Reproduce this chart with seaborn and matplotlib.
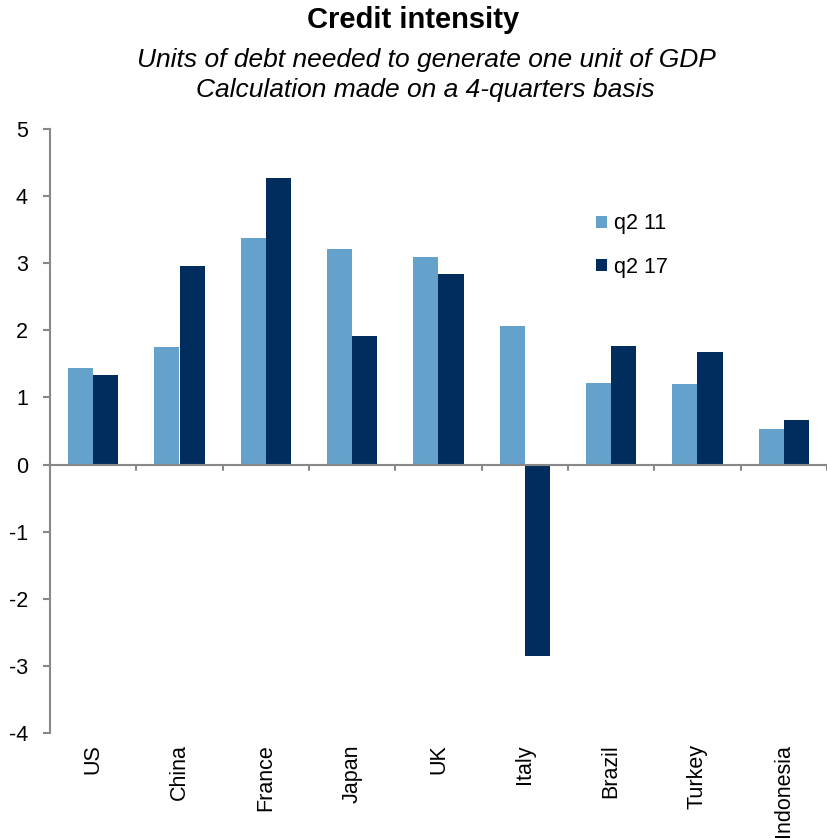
import matplotlib
matplotlib.use("Agg")
import matplotlib.pyplot as plt
import seaborn as sns
import pandas as pd
from matplotlib.patches import Patch

countries = ["US", "China", "France", "Japan", "UK", "Italy", "Brazil", "Turkey", "Indonesia"]
q2_11 = [1.44, 1.75, 3.38, 3.21, 3.09, 2.06, 1.22, 1.20, 0.53]
q2_17 = [1.33, 2.96, 4.27, 1.91, 2.84, -2.86, 1.77, 1.68, 0.67]
series = ["q2 11", "q2 17"]
colors = ["#64A1CB", "#002D5E"]
yticks = [-4, -3, -2, -1, 0, 1, 2, 3, 4, 5]

df = pd.DataFrame({
    "country": countries * 2,
    "value": q2_11 + q2_17,
    "series": [series[0]] * len(countries) + [series[1]] * len(countries),
})

sns.set_style("white")
plt.rcParams["font.family"] = ["Liberation Sans", "DejaVu Sans"]
plt.rcParams["text.color"] = "black"
plt.rcParams["xtick.color"] = "black"
plt.rcParams["ytick.color"] = "black"

fig = plt.figure(figsize=(8.27, 8.38), dpi=100)
ax = fig.add_axes([50 / 827, 1 - 733 / 838, 777 / 827, (733 - 129) / 838])

sns.barplot(data=df, x="country", y="value", hue="series", order=countries,
            hue_order=series, palette=colors, width=0.58, linewidth=0,
            saturation=1, ax=ax, legend=False)

ax.set_ylim(-4, 5)
ax.set_xlim(-0.5, len(countries) - 0.5)
ax.set_yticks(yticks)
ax.set_yticklabels([str(t) for t in yticks], fontsize=15.5, color="black")
ax.set_xlabel("")
ax.set_ylabel("")

for s in ["top", "right", "bottom"]:
    ax.spines[s].set_visible(False)
ax.spines["left"].set_color("#888888")
ax.spines["left"].set_linewidth(1.5)
ax.tick_params(axis="y", length=5, width=1.5, color="#888888", labelcolor="black",
               pad=11, left=True)
ax.tick_params(axis="x", length=0, pad=8, labelcolor="black")
ax.set_xticks(range(len(countries)))
ax.set_xticklabels(countries, rotation=90, fontsize=15.5, va="top", color="black")

# zero axis line with category separators
ax.axhline(0, color="#888888", linewidth=1.5, zorder=3)
for i in range(len(countries) + 1):
    ax.plot([i - 0.5, i - 0.5], [0, -0.08], color="#888888", linewidth=1.5,
            clip_on=False, zorder=3)

handles = [Patch(facecolor=c, edgecolor="none") for c in colors]
fig.legend(handles, series, loc="upper left", bbox_to_anchor=(577 / 827, 1 - 194 / 838),
           frameon=False, fontsize=15.5, handlelength=0.5, handleheight=0.5,
           handletextpad=0.3, labelspacing=1.05)

fig.text(0.5, 1 - 20 / 838, "Credit intensity", ha="center", va="center",
         fontsize=21, fontweight="bold", color="black")
fig.text(426 / 827, 1 - 60 / 838, "Units of debt needed to generate one unit of GDP",
         ha="center", va="center", fontsize=19, style="italic", color="black")
fig.text(425 / 827, 1 - 90 / 838, "Calculation made on a 4-quarters basis",
         ha="center", va="center", fontsize=19, style="italic", color="black")

fig.savefig("out.png", dpi=100)
